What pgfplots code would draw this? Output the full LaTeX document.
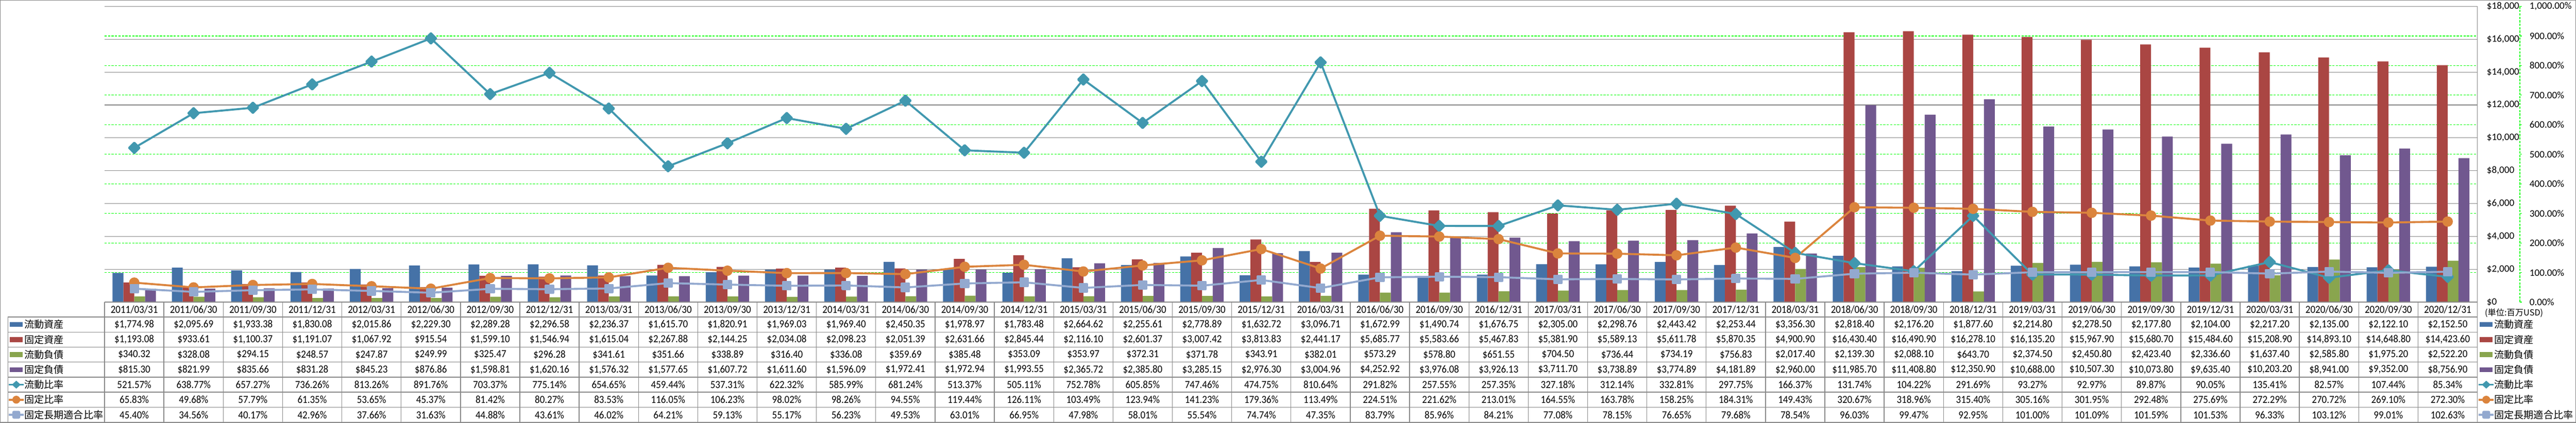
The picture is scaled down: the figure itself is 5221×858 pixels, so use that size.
\documentclass[border=0pt]{standalone}
\usepackage{pgfplots}
\pgfplotsset{compat=1.18}
\usepackage{pgfplotstable}
\usepackage{fontspec}
\setmainfont{Carlito}
\newfontfamily\cjk{Noto Sans CJK JP}
\newfontfamily\tabfont[FakeStretch=0.9]{Carlito}

\definecolor{cA}{HTML}{4572A7}
\definecolor{cB}{HTML}{AA4643}
\definecolor{cC}{HTML}{89A54E}
\definecolor{cD}{HTML}{71588F}
\definecolor{cE}{HTML}{4198AF}
\definecolor{cF}{HTML}{DB843D}
\definecolor{cG}{HTML}{93A9CF}
\definecolor{gridgray}{HTML}{888888}
\definecolor{grn}{HTML}{00FF00}

\pgfkeys{/pgf/number format/assume math mode=true}

% ca: 流動資産, fa: 固定資産, cl: 流動負債, fl: 固定負債 (百万USD)
% cr: 流動比率, fr: 固定比率, flr: 固定長期適合比率 (%)
\pgfplotstableread{
date ca fa cl fl cr fr flr
2011/03/31 1774.98 1193.08 340.32 815.30 521.57 65.83 45.40
2011/06/30 2095.69 933.61 328.08 821.99 638.77 49.68 34.56
2011/09/30 1933.38 1100.37 294.15 835.66 657.27 57.79 40.17
2011/12/31 1830.08 1191.07 248.57 831.28 736.26 61.35 42.96
2012/03/31 2015.86 1067.92 247.87 845.23 813.26 53.65 37.66
2012/06/30 2229.30 915.54 249.99 876.86 891.76 45.37 31.63
2012/09/30 2289.28 1599.10 325.47 1598.81 703.37 81.42 44.88
2012/12/31 2296.58 1546.94 296.28 1620.16 775.14 80.27 43.61
2013/03/31 2236.37 1615.04 341.61 1576.32 654.65 83.53 46.02
2013/06/30 1615.70 2267.88 351.66 1577.65 459.44 116.05 64.21
2013/09/30 1820.91 2144.25 338.89 1607.72 537.31 106.23 59.13
2013/12/31 1969.03 2034.08 316.40 1611.60 622.32 98.02 55.17
2014/03/31 1969.40 2098.23 336.08 1596.09 585.99 98.26 56.23
2014/06/30 2450.35 2051.39 359.69 1972.41 681.24 94.55 49.53
2014/09/30 1978.97 2631.66 385.48 1972.94 513.37 119.44 63.01
2014/12/31 1783.48 2845.44 353.09 1993.55 505.11 126.11 66.95
2015/03/31 2664.62 2116.10 353.97 2365.72 752.78 103.49 47.98
2015/06/30 2255.61 2601.37 372.31 2385.80 605.85 123.94 58.01
2015/09/30 2778.89 3007.42 371.78 3285.15 747.46 141.23 55.54
2015/12/31 1632.72 3813.83 343.91 2976.30 474.75 179.36 74.74
2016/03/31 3096.71 2441.17 382.01 3004.96 810.64 113.49 47.35
2016/06/30 1672.99 5685.77 573.29 4252.92 291.82 224.51 83.79
2016/09/30 1490.74 5583.66 578.80 3976.08 257.55 221.62 85.96
2016/12/31 1676.75 5467.83 651.55 3926.13 257.35 213.01 84.21
2017/03/31 2305.00 5381.90 704.50 3711.70 327.18 164.55 77.08
2017/06/30 2298.76 5589.13 736.44 3738.89 312.14 163.78 78.15
2017/09/30 2443.42 5611.78 734.19 3774.89 332.81 158.25 76.65
2017/12/31 2253.44 5870.35 756.83 4181.89 297.75 184.31 79.68
2018/03/31 3356.30 4900.90 2017.40 2960.00 166.37 149.43 78.54
2018/06/30 2818.40 16430.40 2139.30 11985.70 131.74 320.67 96.03
2018/09/30 2176.20 16490.90 2088.10 11408.80 104.22 318.96 99.47
2018/12/31 1877.60 16278.10 643.70 12350.90 291.69 315.40 92.95
2019/03/31 2214.80 16135.20 2374.50 10688.00 93.27 305.16 101.00
2019/06/30 2278.50 15967.90 2450.80 10507.30 92.97 301.95 101.09
2019/09/30 2177.80 15680.70 2423.40 10073.80 89.87 292.48 101.59
2019/12/31 2104.00 15484.60 2336.60 9635.40 90.05 275.69 101.53
2020/03/31 2217.20 15208.90 1637.40 10203.20 135.41 272.29 96.33
2020/06/30 2135.00 14893.10 2585.80 8941.00 82.57 270.72 103.12
2020/09/30 2122.10 14648.80 1975.20 9352.00 107.44 269.10 99.01
2020/12/31 2152.50 14423.60 2522.20 8756.90 85.34 272.30 102.63
}\data

\pgfplotsset{
  plotbox/.style={at={(212pt,245pt)}, anchor=south west, scale only axis,
    width=4809pt, height=600pt, xmin=-0.5, xmax=39.5, xtick=\empty,
    axis line style={draw=none}, major tick length=0pt,
    scaled y ticks=false, yticklabel pos=right,
    yticklabel style={anchor=west, inner sep=0pt, font=\fontsize{20}{24}\selectfont}},
}

\begin{document}
\begin{tikzpicture}
\useasboundingbox (0,0) rectangle (5221pt,858pt);

% percent axis: grid and labels
\begin{axis}[plotbox, ymin=0, ymax=1000, ytick={0,100,...,1000},
  ymajorgrids, major grid style={grn, dash pattern=on 4.5pt off 2.5pt, line width=1.3pt},
  yticklabel={\pgfmathprintnumber[fixed,fixed zerofill,precision=2,1000 sep={,}]{\tick}\%},
  yticklabel style={xshift=105.7pt}]
\end{axis}

% money axis: bars
\begin{axis}[plotbox, ymin=0, ymax=18000, ytick={0,2000,...,18000},
  ymajorgrids, major grid style={gridgray, line width=1.2pt},
  yticklabel={\$\pgfmathprintnumber[fixed,precision=0,1000 sep={,}]{\tick}},
  yticklabel style={xshift=19pt},
  ybar=0pt, bar width=22pt]
\addplot[fill=cA, draw=none] table[x expr=\coordindex, y=ca]{\data};
\addplot[fill=cB, draw=none] table[x expr=\coordindex, y=fa]{\data};
\addplot[fill=cC, draw=none] table[x expr=\coordindex, y=cl]{\data};
\addplot[fill=cD, draw=none] table[x expr=\coordindex, y=fl]{\data};
\end{axis}

% percent axis: lines
\begin{axis}[plotbox, ymin=0, ymax=1000, hide axis, clip=false]
\addplot[cE, line width=4pt, line join=round, mark=square*, mark size=7.5pt,
  mark options={rotate=45, solid}] table[x expr=\coordindex, y=cr]{\data};
\addplot[cF, line width=4pt, line join=round, mark=*, mark size=8.5pt]
  table[x expr=\coordindex, y=fr]{\data};
\addplot[cG, line width=4pt, line join=round, mark=square*, mark size=7.5pt,
  mark options={rounded corners=3pt}] table[x expr=\coordindex, y=flr]{\data};
\end{axis}

\begin{scope}[x=1pt, y=1pt]
  \tikzset{tline/.style={gridgray, line width=1.4pt},
    tab/.style={font=\tabfont\fontsize{22}{24}\selectfont, inner sep=0pt},
    leg/.style={font=\cjk\fontsize{20}{24}\selectfont, inner sep=0pt, anchor=west}}
  % outer border
  \draw[gridgray, line width=1.5pt] (0.75,0.75) rectangle (5220.25,857.25);
  % plot right edge / money axis line
  \draw[tline] (5021,845) -- (5021,1.2);
  % percent axis line with ticks
  \draw[grn, line width=1.3pt, dash pattern=on 4.5pt off 2.5pt] (5107,845) -- (5107,245);
  \foreach \v in {0,...,10} \draw[grn, line width=1.3pt] (5107,245+60*\v) -- ++(4.5,0);
  % data table grid
  \draw[tline] (212,245.5) -- (5021,245.5);
  \foreach \r in {0,...,7} \draw[tline] (16,214.7-\r*30.5) -- (5021,214.7-\r*30.5);
  \draw[tline] (16,214.7) -- (16,1.2);
  \foreach \k in {0,...,40} \draw[tline] (212+\k*120.225,245.5) -- (212+\k*120.225,1.2);
  % table values
  \foreach \i in {0,...,39} {
    \pgfmathsetmacro\cx{212+(\i+0.5)*120.225}
    \pgfplotstablegetelem{\i}{date}\of\data
    \node[tab] at (\cx,229.6) {\pgfplotsretval};
    \foreach \cn/\rn in {ca/1,fa/2,cl/3,fl/4} {
      \pgfplotstablegetelem{\i}{\cn}\of\data
      \node[tab] at (\cx,{214.7-(\rn-0.5)*30.5}) {\$\pgfmathprintnumber[fixed,fixed zerofill,precision=2,1000 sep={,}]{\pgfplotsretval}};
    }
    \foreach \cn/\rn in {cr/5,fr/6,flr/7} {
      \pgfplotstablegetelem{\i}{\cn}\of\data
      \node[tab] at (\cx,{214.7-(\rn-0.5)*30.5}) {\pgfmathprintnumber[fixed,fixed zerofill,precision=2,1000 sep={,}]{\pgfplotsretval}\%};
    }
  }
  % legend keys (left in table, right beside axis)
  \foreach \col/\rn/\name in {cA/1/流動資産, cB/2/固定資産, cC/3/流動負債, cD/4/固定負債} {
    \pgfmathsetmacro\yc{214.7-(\rn-0.5)*30.5}
    \fill[\col] (20,\yc-5) rectangle (46,\yc+5);
    \node[leg] at (49,\yc) {\name};
    \fill[\col] (5026,\yc-5) rectangle (5052,\yc+5);
    \node[leg] at (5055,\yc) {\name};
  }
  \foreach \x/\tx in {33/49, 5039/5055} {
    \pgfmathsetmacro\yc{214.7-4.5*30.5}
    \draw[cE, line width=4pt] (\x-15,\yc) -- (\x+15,\yc);
    \fill[cE] (\x-9,\yc) -- (\x,\yc+8) -- (\x+9,\yc) -- (\x,\yc-8) -- cycle;
    \node[leg] at (\tx,\yc) {流動比率};
    \pgfmathsetmacro\yc{214.7-5.5*30.5}
    \draw[cF, line width=4pt] (\x-15,\yc) -- (\x+15,\yc);
    \fill[cF] (\x,\yc) circle (8);
    \node[leg] at (\tx,\yc) {固定比率};
    \pgfmathsetmacro\yc{214.7-6.5*30.5}
    \draw[cG, line width=4pt] (\x-15,\yc) -- (\x+15,\yc);
    \fill[cG, rounded corners=3pt] (\x-8,\yc-8) rectangle (\x+8,\yc+8);
    \node[leg] at (\tx,\yc) {固定長期適合比率};
  }
  \node[font=\cjk\fontsize{17}{20}\selectfont, inner sep=0pt, anchor=west] at (5036,223) {(単位:百万USD)};
\end{scope}
\end{tikzpicture}
\end{document}
